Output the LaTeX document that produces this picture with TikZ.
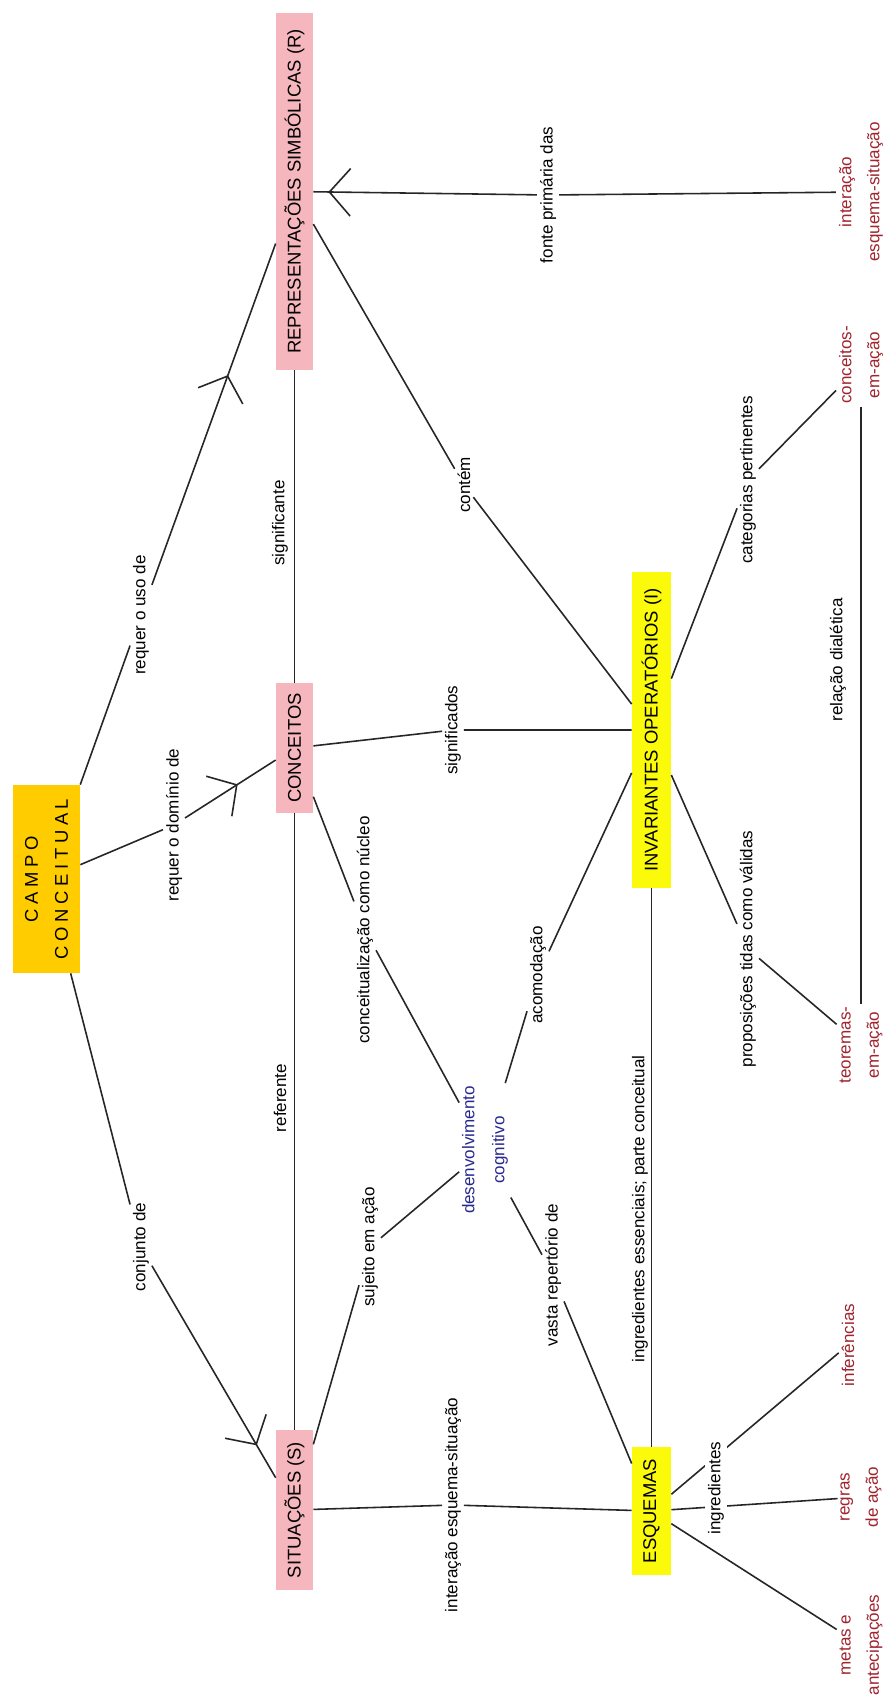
\documentclass[tikz,border=0pt]{standalone}
\usepackage{fontspec}
\setmainfont{Liberation Sans}
\usetikzlibrary{arrows.meta,decorations.markings}

\definecolor{conceptpink}{RGB}{246,182,190}
\definecolor{conceptyellow}{RGB}{250,250,10}
\definecolor{campoorange}{RGB}{255,204,0}
\definecolor{itemred}{RGB}{160,35,45}
\definecolor{devblue}{RGB}{40,40,140}

\tikzset{
  concept/.style={rotate=90, inner sep=1pt, minimum height=0.74cm, font=\fontsize{10.5}{12}\selectfont},
  pinkbox/.style={concept, fill=conceptpink},
  yellowbox/.style={concept, fill=conceptyellow, minimum height=0.78cm},
  linklabel/.style={rotate=90, inner sep=1.5pt, font=\fontsize{9.7}{11}\selectfont},
  redtext/.style={rotate=90, inner sep=1.5pt, align=center, text=itemred, font=\fontsize{9.7}{16}\selectfont},
  link/.style={draw=black!85, line width=0.9pt},
  arrowat/.style={postaction={decorate}, decoration={markings,
      mark=at position #1 with {\arrow{Straight Barb[length=0.42cm, width=0.95cm]}}}},
}

\begin{document}
\begin{tikzpicture}[x=0.02cm, y=-0.02cm]
    \path[use as bounding box, fill=white] (0,0) rectangle (886,1701);

    % Concepts
    \node[concept, fill=campoorange, minimum width=3.76cm, minimum height=1.34cm, align=center,
          font={\fontsize{10.5}{17}\selectfont\addfontfeature{LetterSpace=25}}] (campo) at (46.5,879) {CAMPO\\CONCEITUAL};
    \node[pinkbox, minimum width=7.14cm] (repr) at (294.5,191.5) {REPRESENTAÇÕES SIMBÓLICAS (R)};
    \node[pinkbox, minimum width=2.6cm] (conc) at (294.5,748) {CONCEITOS};
    \node[pinkbox, minimum width=3.2cm] (sit) at (294.5,1510) {SITUAÇÕES (S)};
    \node[yellowbox, minimum width=6.32cm] (inv) at (651.5,730) {INVARIANTES OPERATÓRIOS (I)};
    \node[yellowbox, minimum width=2.56cm] (esq) at (651.5,1511) {ESQUEMAS};
    \node[linklabel, align=center, text=devblue, font=\fontsize{9.7}{17}\selectfont] (desenv) at (485,1150) {desenvolvimento\\cognitivo};

    % Components
    \node[redtext] (interacao) at (861,192) {interação\\esquema-situação};
    \node[redtext] (conceitosacao) at (861,365) {conceitos-\\em-ação};
    \node[redtext] (teoremas) at (861,1045) {teoremas-\\em-ação};
    \node[redtext] (inferencias) at (848,1345) {inferências};
    \node[redtext] (regras) at (861,1497) {regras\\de ação};
    \node[redtext] (metas) at (861,1645) {metas e\\antecipações};

    % Linking phrases
    \node[linklabel] (lusode) at (141,615) {requer o uso de};
    \node[linklabel] (ldominio) at (174,825) {requer o domínio de};
    \node[linklabel] (lconjunto) at (141,1247) {conjunto de};
    \node[linklabel] (lsignificante) at (280,523) {significante};
    \node[linklabel] (lreferente) at (280,1098) {referente};
    \node[linklabel] (lsignificados) at (453,730) {significados};
    \node[linklabel] (lcontem) at (464,485) {contém};
    \node[linklabel] (lfonte) at (548,195) {fonte primária das};
    \node[linklabel] (lnucleo) at (365,930) {conceitualização como núcleo};
    \node[linklabel] (lacomod) at (538,975) {acomodação};
    \node[linklabel] (lsujeito) at (370,1247) {sujeito em ação};
    \node[linklabel] (lvasta) at (553,1275) {vasta repertório de};
    \node[linklabel] (linteracao) at (453,1505) {interação esquema-situação};
    \node[linklabel] (lessenciais) at (640,1209) {ingredientes essenciais; parte conceitual};
    \node[linklabel] (lrelacao) at (838,660) {relação dialética};
    \node[linklabel] (lcategorias) at (748,480) {categorias pertinentes};
    \node[linklabel] (lproposicoes) at (748,949) {proposições tidas como válidas};

    % Connectors
    \draw[link] (campo) -- (lusode);
    \draw[link, arrowat=-2.8cm] (lusode) -- (repr);
    \draw[link] (campo) -- (ldominio);
    \draw[link, arrowat=-0.9cm] (ldominio) -- (conc);
    \draw[link] (campo) -- (lconjunto);
    \draw[link, arrowat=-0.75cm] (lconjunto) -- (sit);
    \draw[link] (repr) -- (conc);
    \draw[link] (conc) -- (sit);
    \draw[link] (conc) -- (lsignificados) -- (inv);
    \draw[link] (repr) -- (lcontem) -- (inv);
    \draw[link] (interacao) -- (lfonte);
    \draw[link, arrowat=-0.3cm] (lfonte) -- (repr);
    \draw[link] (conc) -- (lnucleo) -- (desenv);
    \draw[link] (desenv) -- (lacomod) -- (inv);
    \draw[link] (sit) -- (lsujeito) -- (desenv);
    \draw[link] (desenv) -- (lvasta) -- (esq);
    \draw[link] (sit) -- (linteracao) -- (esq);
    \draw[link] (inv) -- (esq);
    \draw[link] (inv) -- (lcategorias) -- (conceitosacao);
    \draw[link] (inv) -- (lproposicoes) -- (teoremas);
    \draw[link] (teoremas) -- (conceitosacao);
    \draw[link] (esq) -- (inferencias);
    \draw[link] (esq) -- (regras);
    \draw[link] (esq) -- (metas);

    \node[linklabel, fill=white] (lingred) at (716,1488) {ingredientes};
\end{tikzpicture}
\end{document}
